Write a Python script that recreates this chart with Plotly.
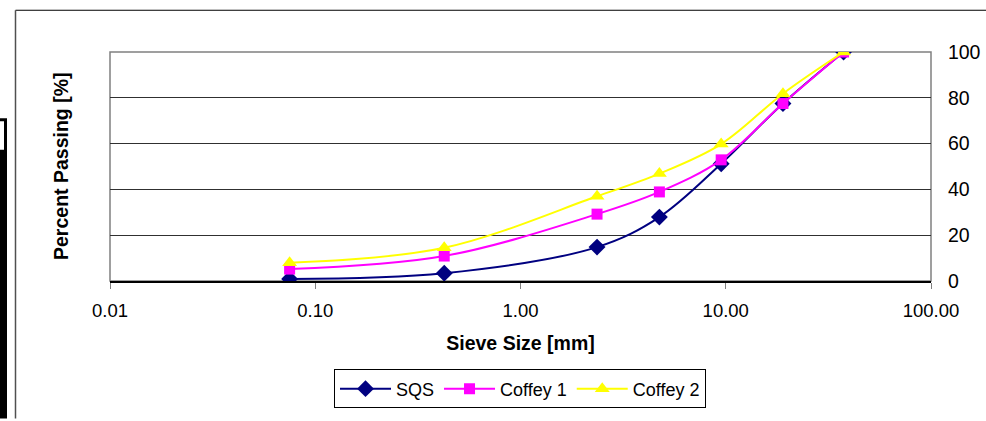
import plotly.graph_objects as go

sieve_mm = [0.075, 0.425, 2.36, 4.75, 9.5, 19.0, 37.5]
sqs = [0.9, 3.4, 14.8, 27.9, 51.2, 77.5, 100]
coffey1 = [5.2, 10.9, 29.2, 38.9, 52.9, 77.5, 100]
coffey2 = [8.0, 14.5, 37.0, 46.9, 59.8, 81.8, 100]

x_tickvals = [0.01, 0.1, 1, 10, 100]
x_ticktext = ["0.01", "0.10", "1.00", "10.00", "100.00"]
y_tickvals = [0, 20, 40, 60, 80, 100]

W, H = 986, 421
ML, MR, MT, MB = 110, 55, 52, 136
PW, PH = W - ML - MR, H - MT - MB

def px(x):
    return (x - ML) / PW

def py(y):
    return (H - MB - y) / PH

FONT = "Liberation Sans, Arial, sans-serif"

fig = go.Figure()
fig.add_trace(go.Scatter(
    x=sieve_mm, y=sqs, name="SQS", mode="lines+markers",
    line=dict(color="#000080", width=2, shape="spline", smoothing=1),
    marker=dict(symbol="diamond", size=13, color="#000080")))
fig.add_trace(go.Scatter(
    x=sieve_mm, y=coffey1, name="Coffey 1", mode="lines+markers",
    line=dict(color="#FF00FF", width=2, shape="spline", smoothing=1),
    marker=dict(symbol="square", size=11, color="#FF00FF")))
fig.add_trace(go.Scatter(
    x=sieve_mm, y=coffey2, name="Coffey 2", mode="lines+markers",
    line=dict(color="#FFFF00", width=2, shape="spline", smoothing=1),
    marker=dict(symbol="triangle-up", size=13, color="#FFFF00")))

shapes = [
    dict(type="rect", xref="paper", yref="paper", x0=0, x1=1, y0=0, y1=1,
         line=dict(color="#808080", width=1.5), layer="below"),
    dict(type="line", xref="paper", yref="paper", x0=px(15.5), x1=px(990), y0=py(9.5), y1=py(9.5),
         line=dict(color="#000000", width=1.2)),
    dict(type="line", xref="paper", yref="paper", x0=px(15.5), x1=px(15.5), y0=py(9.5), y1=py(425),
         line=dict(color="#505050", width=1.5)),
    dict(type="rect", xref="paper", yref="paper", x0=px(-2), x1=px(5.5), y0=py(121), y1=py(153),
         line=dict(color="#000000", width=3)),
    dict(type="rect", xref="paper", yref="paper", x0=px(-2), x1=px(7), y0=py(152), y1=py(425),
         fillcolor="#000000", line=dict(width=0)),
]

fig.update_layout(
    width=W, height=H,
    margin=dict(l=ML, r=MR, t=MT, b=MB),
    paper_bgcolor="white", plot_bgcolor="white",
    font=dict(family=FONT, size=18, color="#000000"),
    showlegend=True,
    legend=dict(orientation="h", x=px(520), xanchor="center", y=py(375), yanchor="top",
                bordercolor="#000000", borderwidth=1, bgcolor="white",
                font=dict(family=FONT, size=18, color="#000000"),
                itemwidth=51, tracegroupgap=0),
    xaxis=dict(type="log", range=[-2, 2], tickvals=x_tickvals, ticktext=x_ticktext,
               automargin=False,
               showgrid=False, zeroline=False, showline=True, linecolor="#000000", linewidth=1.5,
               ticks="outside", ticklen=6, tickcolor="#808080", ticklabelstandoff=6,
               tickfont=dict(family=FONT, size=18.5),
               title=dict(text="<b>Sieve Size [mm]</b>", font=dict(family=FONT, size=19.5), standoff=16)),
    yaxis=dict(range=[0, 100], tickvals=y_tickvals, side="right", automargin=False,
               showgrid=True, gridcolor="#303030", gridwidth=1, zeroline=False,
               showline=False, ticks="outside", ticklen=12, tickcolor="rgba(0,0,0,0)",
               tickfont=dict(family=FONT, size=19.5)),
    shapes=shapes,
    annotations=[dict(text="<b>Percent Passing [%]</b>", textangle=-90, xref="paper", yref="paper",
                      x=px(61), y=py(169), xanchor="center", yanchor="middle",
                      showarrow=False, font=dict(family=FONT, size=19.5))],
)

fig.write_html("out.html", config={"displayModeBar": False},
               post_script="document.body.style.margin='0';document.body.style.overflow='hidden';")
